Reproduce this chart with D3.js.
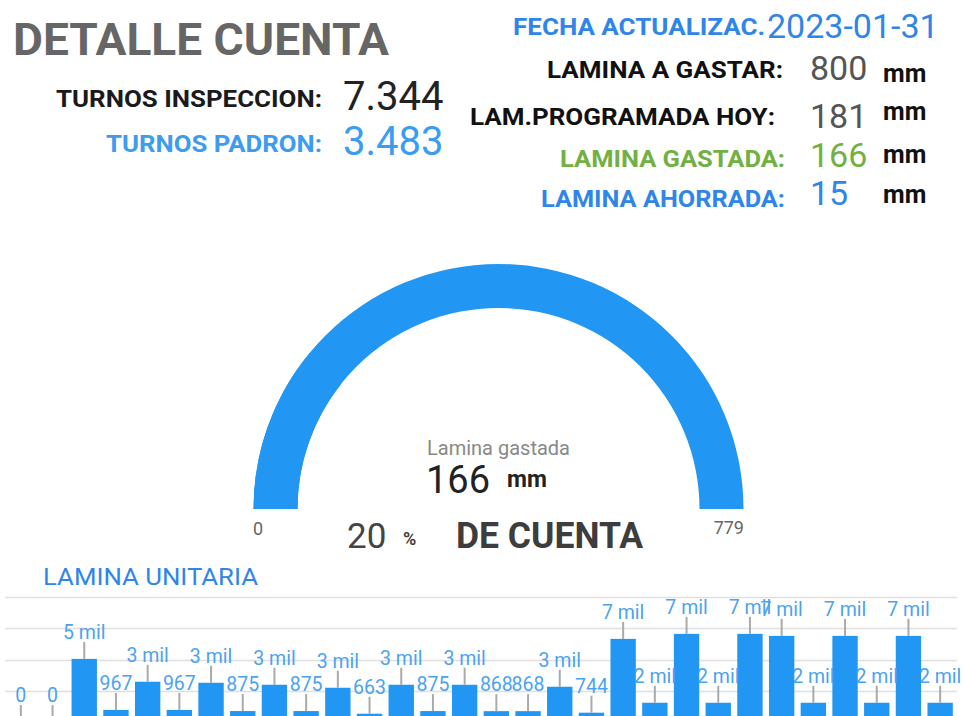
<!DOCTYPE html>
<html>
<head>
<meta charset="utf-8">
<script src="https://cdn.jsdelivr.net/npm/d3@7"></script>
<style>
  html, body { margin: 0; padding: 0; background: #fff; }
  svg { display: block; font-family: Roboto, "Noto Sans", sans-serif; }
</style>
</head>
<body>
<svg id="chart" width="963" height="716"></svg>
<script>
// ---- Account summary ----
const title = "DETALLE CUENTA";
const turnosLabels = ["TURNOS INSPECCION:", "TURNOS PADRON:"];
const turnosValues = [7344, 3483];
const fechaLabel = "FECHA ACTUALIZAC.";
const fechaValue = "2023-01-31";
const laminaLabels = ["LAMINA A GASTAR:", "LAM.PROGRAMADA HOY:", "LAMINA GASTADA:", "LAMINA AHORRADA:"];
const laminaValues = [800, 181, 166, 15];
const unit = "mm";

// ---- Gauge ----
const gaugeTitle = "Lamina gastada";
const gaugeMin = 0;
const gaugeMax = 779;
const gaugeValue = 166;

// ---- Unit sheet per day (bar chart) ----
const barTitle = "LAMINA UNITARIA";
const barValues = [0, 0, 5050, 967, 3220, 967, 3140, 875, 2980, 875,
                   2740, 663, 2980, 875, 2980, 868, 868, 2820, 744, 6650,
                   1540, 7050, 1540, 7050, 6890, 1540, 6890, 1540, 6890, 1540];
const barTicks = [0, 2500, 5000, 7500, 10000];

const svg = d3.select("#chart");
const blue = "#2196f3";
const esFmt = d3.formatLocale({ decimal: ",", thousands: ".", grouping: [3], currency: ["$", ""] }).format(",d");

// Small helper: a text element, optionally stretched to a given width
function label(x, y, txt, o = {}) {
  const t = svg.append("text").attr("x", x).attr("y", y)
    .attr("font-size", o.size || 16)
    .attr("font-weight", o.weight || 400)
    .attr("fill", o.fill || "#222")
    .attr("text-anchor", o.anchor || "start")
    .text(txt);
  if (o.width) t.attr("textLength", o.width).attr("lengthAdjust", o.adjust || "spacingAndGlyphs");
  return t;
}

// Title
label(13, 55, title, { size: 45, weight: 700, fill: "#666", width: 376 });

// Turnos rows
const turnosColors = ["#1a1a1a", "#3b9cf0"];
const turnosValueColors = ["#222", "#3b9cf0"];
const turnosY = [107, 152];
const turnosWidths = [266, 216];
turnosLabels.forEach((lab, i) => {
  label(322, turnosY[i], lab, { size: 24, weight: 700, fill: turnosColors[i], anchor: "end", width: turnosWidths[i] });
  label(343, turnosY[i] + 3, esFmt(turnosValues[i]), { size: 40, fill: turnosValueColors[i] });
});

// Date row
label(765, 35, fechaLabel, { size: 24, weight: 700, fill: "#2f86e8", anchor: "end", width: 252 });
label(767, 38, fechaValue, { size: 34, fill: "#2f86e8" });

// Lamina rows
const laminaLabelColors = ["#111", "#111", "#72b043", "#2f86e8"];
const laminaValueColors = ["#555", "#555", "#72b043", "#2f86e8"];
const laminaLabelRight = [783, 775, 785, 785];
const laminaWidths = [236, 305, 225, 244];
const laminaY = [78, 125, 167, 207];
const laminaValueY = [80, 128, 167, 205];
const laminaUnitY = [82, 120, 163, 203];
laminaLabels.forEach((lab, i) => {
  label(laminaLabelRight[i], laminaY[i], lab, { size: 24, weight: 700, fill: laminaLabelColors[i], anchor: "end", width: laminaWidths[i] });
  label(810, laminaValueY[i], laminaValues[i], { size: 34, fill: laminaValueColors[i] });
  label(883, laminaUnitY[i], unit, { size: 25, weight: 700, fill: "#111" });
});

// ---- Gauge ----
const cx = 498.5, cy = 509, rOuter = 245, rInner = 201;
const angle = d3.scaleLinear().domain([gaugeMin, gaugeMax]).range([-Math.PI / 2, Math.PI / 2]);
const arc = d3.arc().innerRadius(rInner).outerRadius(rOuter);
const g = svg.append("g").attr("transform", `translate(${cx},${cy})`);
g.append("path").attr("d", arc({ startAngle: angle(gaugeMin), endAngle: angle(gaugeMax) })).attr("fill", blue);
g.append("path").attr("d", arc({ startAngle: angle(gaugeMin), endAngle: angle(gaugeValue) })).attr("fill", blue);

label(cx, 455, gaugeTitle, { size: 20, fill: "#888", anchor: "middle" });
label(426, 493, gaugeValue, { size: 38, fill: "#222" });
label(507, 487, unit, { size: 23, weight: 700, fill: "#222" });
label(253, 535, gaugeMin, { size: 18, fill: "#666" });
label(744, 534, gaugeMax, { size: 18, fill: "#666", anchor: "end" });

const pct = Math.floor(gaugeValue / laminaValues[0] * 100);
label(347, 548, pct, { size: 35, fill: "#444" });
label(403, 545, "%", { size: 18, weight: 700, fill: "#4a3f36" });
label(456, 548, "DE CUENTA", { size: 36, weight: 700, fill: "#3d3d3d", width: 187 });

// ---- Bar chart ----
label(43, 585, barTitle, { size: 24, fill: "#2f86e8", width: 215 });

const x = d3.scaleBand().domain(d3.range(barValues.length)).range([5, 956])
  .paddingInner(0.2).paddingOuter(0.1);
const y = d3.scaleLinear().domain([0, 10000]).range([722, 597]);

svg.append("g").selectAll("line").data(barTicks).join("line")
  .attr("x1", 5).attr("x2", 957)
  .attr("y1", d => Math.round(y(d)) + 0.5).attr("y2", d => Math.round(y(d)) + 0.5)
  .attr("stroke", "#e0e0e0").attr("stroke-width", 1.5);

const bars = svg.append("g");
bars.selectAll("rect").data(barValues).join("rect")
  .attr("x", (d, i) => x(i)).attr("width", x.bandwidth())
  .attr("y", d => y(d)).attr("height", d => y(0) - y(d))
  .attr("fill", blue);

bars.selectAll("line.stem").data(barValues).join("line").attr("class", "stem")
  .attr("x1", (d, i) => x(i) + x.bandwidth() / 2).attr("x2", (d, i) => x(i) + x.bandwidth() / 2)
  .attr("y1", d => y(d)).attr("y2", d => y(d) - 17)
  .attr("stroke", "#aaa").attr("stroke-width", 2);

const fmtBar = v => v >= 1000 ? `${Math.round(v / 1000)} mil` : `${v}`;
bars.selectAll("text").data(barValues).join("text")
  .attr("x", (d, i) => x(i) + x.bandwidth() / 2).attr("y", d => y(d) - 20)
  .attr("text-anchor", "middle").attr("font-size", 19.5).attr("fill", "#4ba3f0")
  .text(fmtBar);
</script>
</body>
</html>
